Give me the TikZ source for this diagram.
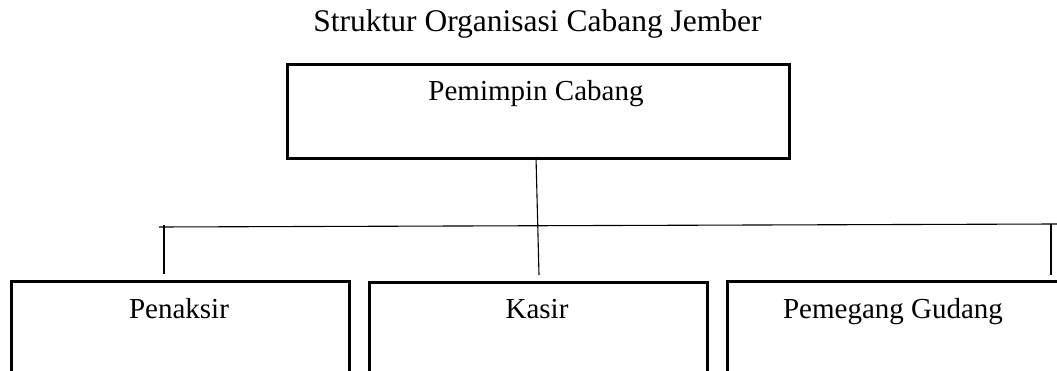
\documentclass[tikz,border=0pt]{standalone}
\usepackage{fontspec}
\setmainfont{Liberation Serif}
\begin{document}
\begin{tikzpicture}[x=1pt,y=-1pt,
  box/.style={draw=black,line width=2.6pt,inner sep=0pt,anchor=north west},
  lbl/.style={anchor=base,inner sep=0pt,font=\fontsize{29}{34}\selectfont},
  conn/.style={draw=black,line width=1.1pt}]
\useasboundingbox (0,0) rectangle (1057,371);
\clip (0,0) rectangle (1057,371);
% title
\node[anchor=base,inner sep=0pt,font=\fontsize{31.5}{37}\selectfont] (title) at (537.5,32) {Struktur Organisasi Cabang Jember};
% boxes
\node[box,minimum width=502pt,minimum height=94pt] (top) at (286,63) {};
\node[lbl] (toplbl) at (536,101) {Pemimpin Cabang};
\node[box,minimum width=338pt,minimum height=200pt] (pen) at (10,280) {};
\node[lbl] (penlbl) at (179,318) {Penaksir};
\node[box,minimum width=338pt,minimum height=200pt] (kas) at (368,281) {};
\node[lbl] (kaslbl) at (537,318.5) {Kasir};
\node[box,minimum width=400pt,minimum height=200pt] (gud) at (726,280) {};
\node[lbl] (gudlbl) at (893,318) {Pemegang Gudang};
% connector points
\coordinate (hl) at (159,227);
\coordinate (hr) at (1057,224);
\coordinate (lt) at (164,225.5);
\coordinate (lb) at (164,274);
\coordinate (rt) at (1051,224);
\coordinate (rb) at (1051,275);
\coordinate (ct) at (536,157);
\coordinate (cb) at (539,275);
\draw[conn] (ct) -- (cb);
\draw[conn] (hl) -- (hr);
\draw[conn] (lt) -- (lb);
\draw[conn] (rt) -- (rb);
\end{tikzpicture}
\end{document}
